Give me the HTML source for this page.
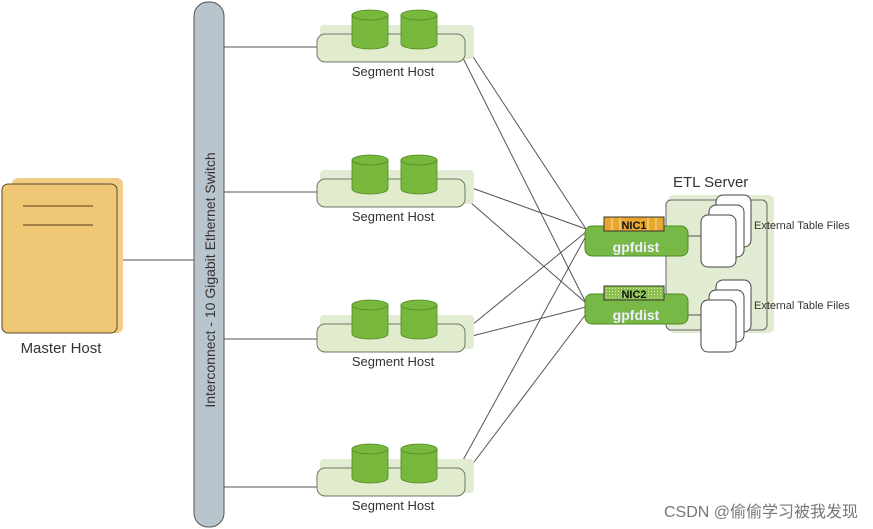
<!DOCTYPE html>
<html><head><meta charset="utf-8"><style>body{margin:0;background:#fff}svg{display:block}</style></head><body>
<svg width="873" height="529" viewBox="0 0 873 529" xmlns="http://www.w3.org/2000/svg" font-family="Liberation Sans, sans-serif">
<defs>
<pattern id="dots" width="3" height="3" patternUnits="userSpaceOnUse"><rect width="3" height="3" fill="#8cc050"/><rect width="1" height="1" fill="#d8f0b0"/></pattern>
<g id="host">
<rect x="320" y="25" width="154" height="34" rx="4" fill="#e2ecd2"/>
<rect x="317" y="34" width="148" height="28" rx="8" fill="#e0eccc" stroke="#6a7a6a" stroke-width="1"/>
<g fill="#78b83c" stroke="#4e8a22" stroke-width="0.8">
<path d="M352 15 v29 a18 5 0 0 0 36 0 v-29 z"/><ellipse cx="370" cy="15" rx="18" ry="5"/>
<path d="M401 15 v29 a18 5 0 0 0 36 0 v-29 z"/><ellipse cx="419" cy="15" rx="18" ry="5"/>
</g>
<text x="393" y="76" font-size="13" fill="#333" text-anchor="middle">Segment Host</text>
</g>
<g id="files">
<rect x="716" y="0" width="35" height="52" rx="7" fill="#fff" stroke="#444"/>
<rect x="709" y="10" width="35" height="52" rx="7" fill="#fff" stroke="#444"/>
<rect x="701" y="20" width="35" height="52" rx="7" fill="#fff" stroke="#444"/>
</g>
</defs>
<g stroke="#555" stroke-width="1" fill="none">
<line x1="123" y1="260" x2="194" y2="260"/>
<line x1="224" y1="47" x2="317" y2="47"/>
<line x1="224" y1="192" x2="317" y2="192"/>
<line x1="224" y1="339" x2="317" y2="339"/>
<line x1="224" y1="487" x2="317" y2="487"/>
<line x1="462" y1="40" x2="586" y2="229"/><line x1="462" y1="56" x2="586" y2="303"/>
<line x1="472" y1="188" x2="586" y2="229"/><line x1="470" y1="202" x2="586" y2="303"/>
<line x1="472" y1="325" x2="586" y2="232"/><line x1="472" y1="336" x2="586" y2="307"/>
<line x1="462" y1="462" x2="586" y2="236"/><line x1="468" y1="470" x2="586" y2="314"/>
</g>
<rect x="194" y="2" width="30" height="525" rx="14" fill="#b9c5cd" stroke="#555"/>
<text transform="translate(215,280) rotate(-90)" font-size="14" fill="#333" text-anchor="middle">Interconnect - 10 Gigabit Ethernet Switch</text>
<rect x="12" y="178" width="111" height="155" rx="6" fill="#f0cc84"/>
<rect x="2" y="184" width="115" height="149" rx="6" fill="#efc775" stroke="#5a4a30"/>
<line x1="23" y1="206" x2="93" y2="206" stroke="#8a6a3a" stroke-width="1.5"/>
<line x1="23" y1="225" x2="93" y2="225" stroke="#8a6a3a" stroke-width="1.5"/>
<text x="61" y="353" font-size="15" fill="#333" text-anchor="middle">Master Host</text>
<use href="#host"/>
<use href="#host" y="145"/>
<use href="#host" y="290"/>
<use href="#host" y="434"/>
<text x="673" y="187" font-size="15" fill="#333">ETL Server</text>
<rect x="668" y="195" width="106" height="138" rx="5" fill="#e2ecd2"/>
<rect x="666" y="200" width="101" height="130" rx="5" fill="#e2ecd2" stroke="#666"/>
<line x1="688" y1="236" x2="701" y2="236" stroke="#555"/>
<line x1="688" y1="315" x2="701" y2="315" stroke="#555"/>
<use href="#files" y="195"/>
<use href="#files" y="280"/>
<text x="754" y="229" font-size="11" fill="#333">External Table Files</text>
<text x="754" y="309" font-size="11" fill="#333">External Table Files</text>
<rect x="585" y="226" width="103" height="30" rx="7" fill="#78b846" stroke="#4e8a22"/>
<rect x="604" y="217" width="60" height="14" fill="#e8a830" stroke="#333"/>
<g stroke="#f8e0a0" stroke-width="1"><line x1="612" y1="218" x2="612" y2="230"/><line x1="620" y1="218" x2="620" y2="230"/><line x1="648" y1="218" x2="648" y2="230"/><line x1="656" y1="218" x2="656" y2="230"/></g>
<text x="634" y="229" font-size="11" font-weight="bold" fill="#111" text-anchor="middle">NIC1</text>
<text x="636" y="252" font-size="14" font-weight="bold" fill="#eef" text-anchor="middle">gpfdist</text>
<rect x="585" y="294" width="103" height="30" rx="7" fill="#78b846" stroke="#4e8a22"/>
<rect x="604" y="286" width="60" height="14" fill="url(#dots)" stroke="#333"/>
<text x="634" y="298" font-size="11" font-weight="bold" fill="#111" text-anchor="middle">NIC2</text>
<text x="636" y="320" font-size="14" font-weight="bold" fill="#eef" text-anchor="middle">gpfdist</text>
<text x="858" y="517" font-size="16" fill="#777" text-anchor="end" font-family="Liberation Sans, Noto Sans CJK SC, sans-serif">CSDN @偷偷学习被我发现</text>
</svg>
</body></html>
